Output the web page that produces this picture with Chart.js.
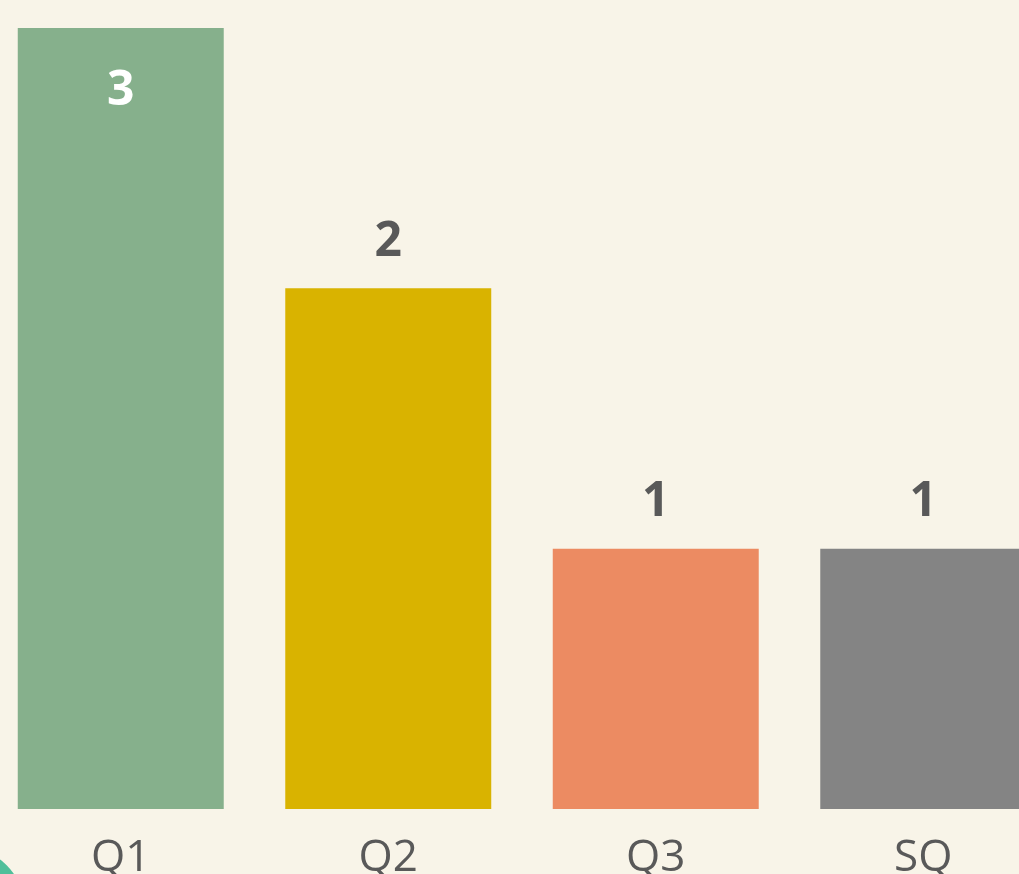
<!DOCTYPE html>
<html>
<head>
<meta charset="utf-8">
<script src="https://cdn.jsdelivr.net/npm/chart.js@4"></script>
<style>
	html, body { margin: 0; padding: 0; background: #F8F4E8; overflow: hidden; }
	#wrap { position: absolute; left: -13px; top: 0; width: 1070px; height: 874px; }
</style>
</head>
<body>
<div id="wrap"><canvas id="quarter-bars"></canvas></div>
<script>
//
// Bars chart
//

var categories = ['Q1', 'Q2', 'Q3', 'SQ'];
var values = [3, 2, 1, 1];
var barColors = ['#86B08C', '#D9B300', '#EC8B62', '#848484'];
var yMin = 0;
var yMax = 3;

// Value labels above bars (inside when at the top)
var valueLabels = {
	id: 'valueLabels',
	afterDatasetsDraw: function(chart) {
		var ctx = chart.ctx;
		var meta = chart.getDatasetMeta(0);
		ctx.save();
		ctx.font = 'bold 48px "Open Sans", sans-serif';
		ctx.textAlign = 'center';
		ctx.textBaseline = 'middle';
		meta.data.forEach(function(bar, i) {
			var inside = bar.y - 60 < chart.chartArea.top;
			ctx.fillStyle = inside ? '#FFFFFF' : '#595959';
			ctx.fillText(values[i], bar.x, inside ? bar.y + 63 : bar.y - 46);
		});
		ctx.restore();
	}
};

// Corner decoration
var corner = {
	id: 'corner',
	afterDraw: function(chart) {
		var ctx = chart.ctx;
		ctx.save();
		ctx.fillStyle = '#4FBF9A';
		ctx.beginPath();
		ctx.arc(-27, 912, 66, 0, Math.PI * 2);
		ctx.fill();
		ctx.restore();
	}
};

var ordersChart = new Chart(document.getElementById('quarter-bars'), {
	type: 'bar',
	data: {
		labels: categories,
		datasets: [{
			data: values,
			backgroundColor: barColors,
			barPercentage: 0.77,
			categoryPercentage: 1
		}]
	},
	options: {
		maintainAspectRatio: false,
		animation: false,
		layout: { padding: { top: 28, left: 0, right: 0, bottom: 0 } },
		plugins: { legend: { display: false }, tooltip: { enabled: false } },
		scales: {
			x: {
				grid: { display: false, drawTicks: false },
				border: { display: false },
				ticks: {
					color: '#595959',
					font: { family: '"Open Sans", sans-serif', size: 44 },
					padding: 23
				},
				afterFit: function(scale) { scale.height = 65; }
			},
			y: {
				display: false,
				min: yMin,
				max: yMax
			}
		}
	},
	plugins: [valueLabels, corner]
});
</script>
</body>
</html>
